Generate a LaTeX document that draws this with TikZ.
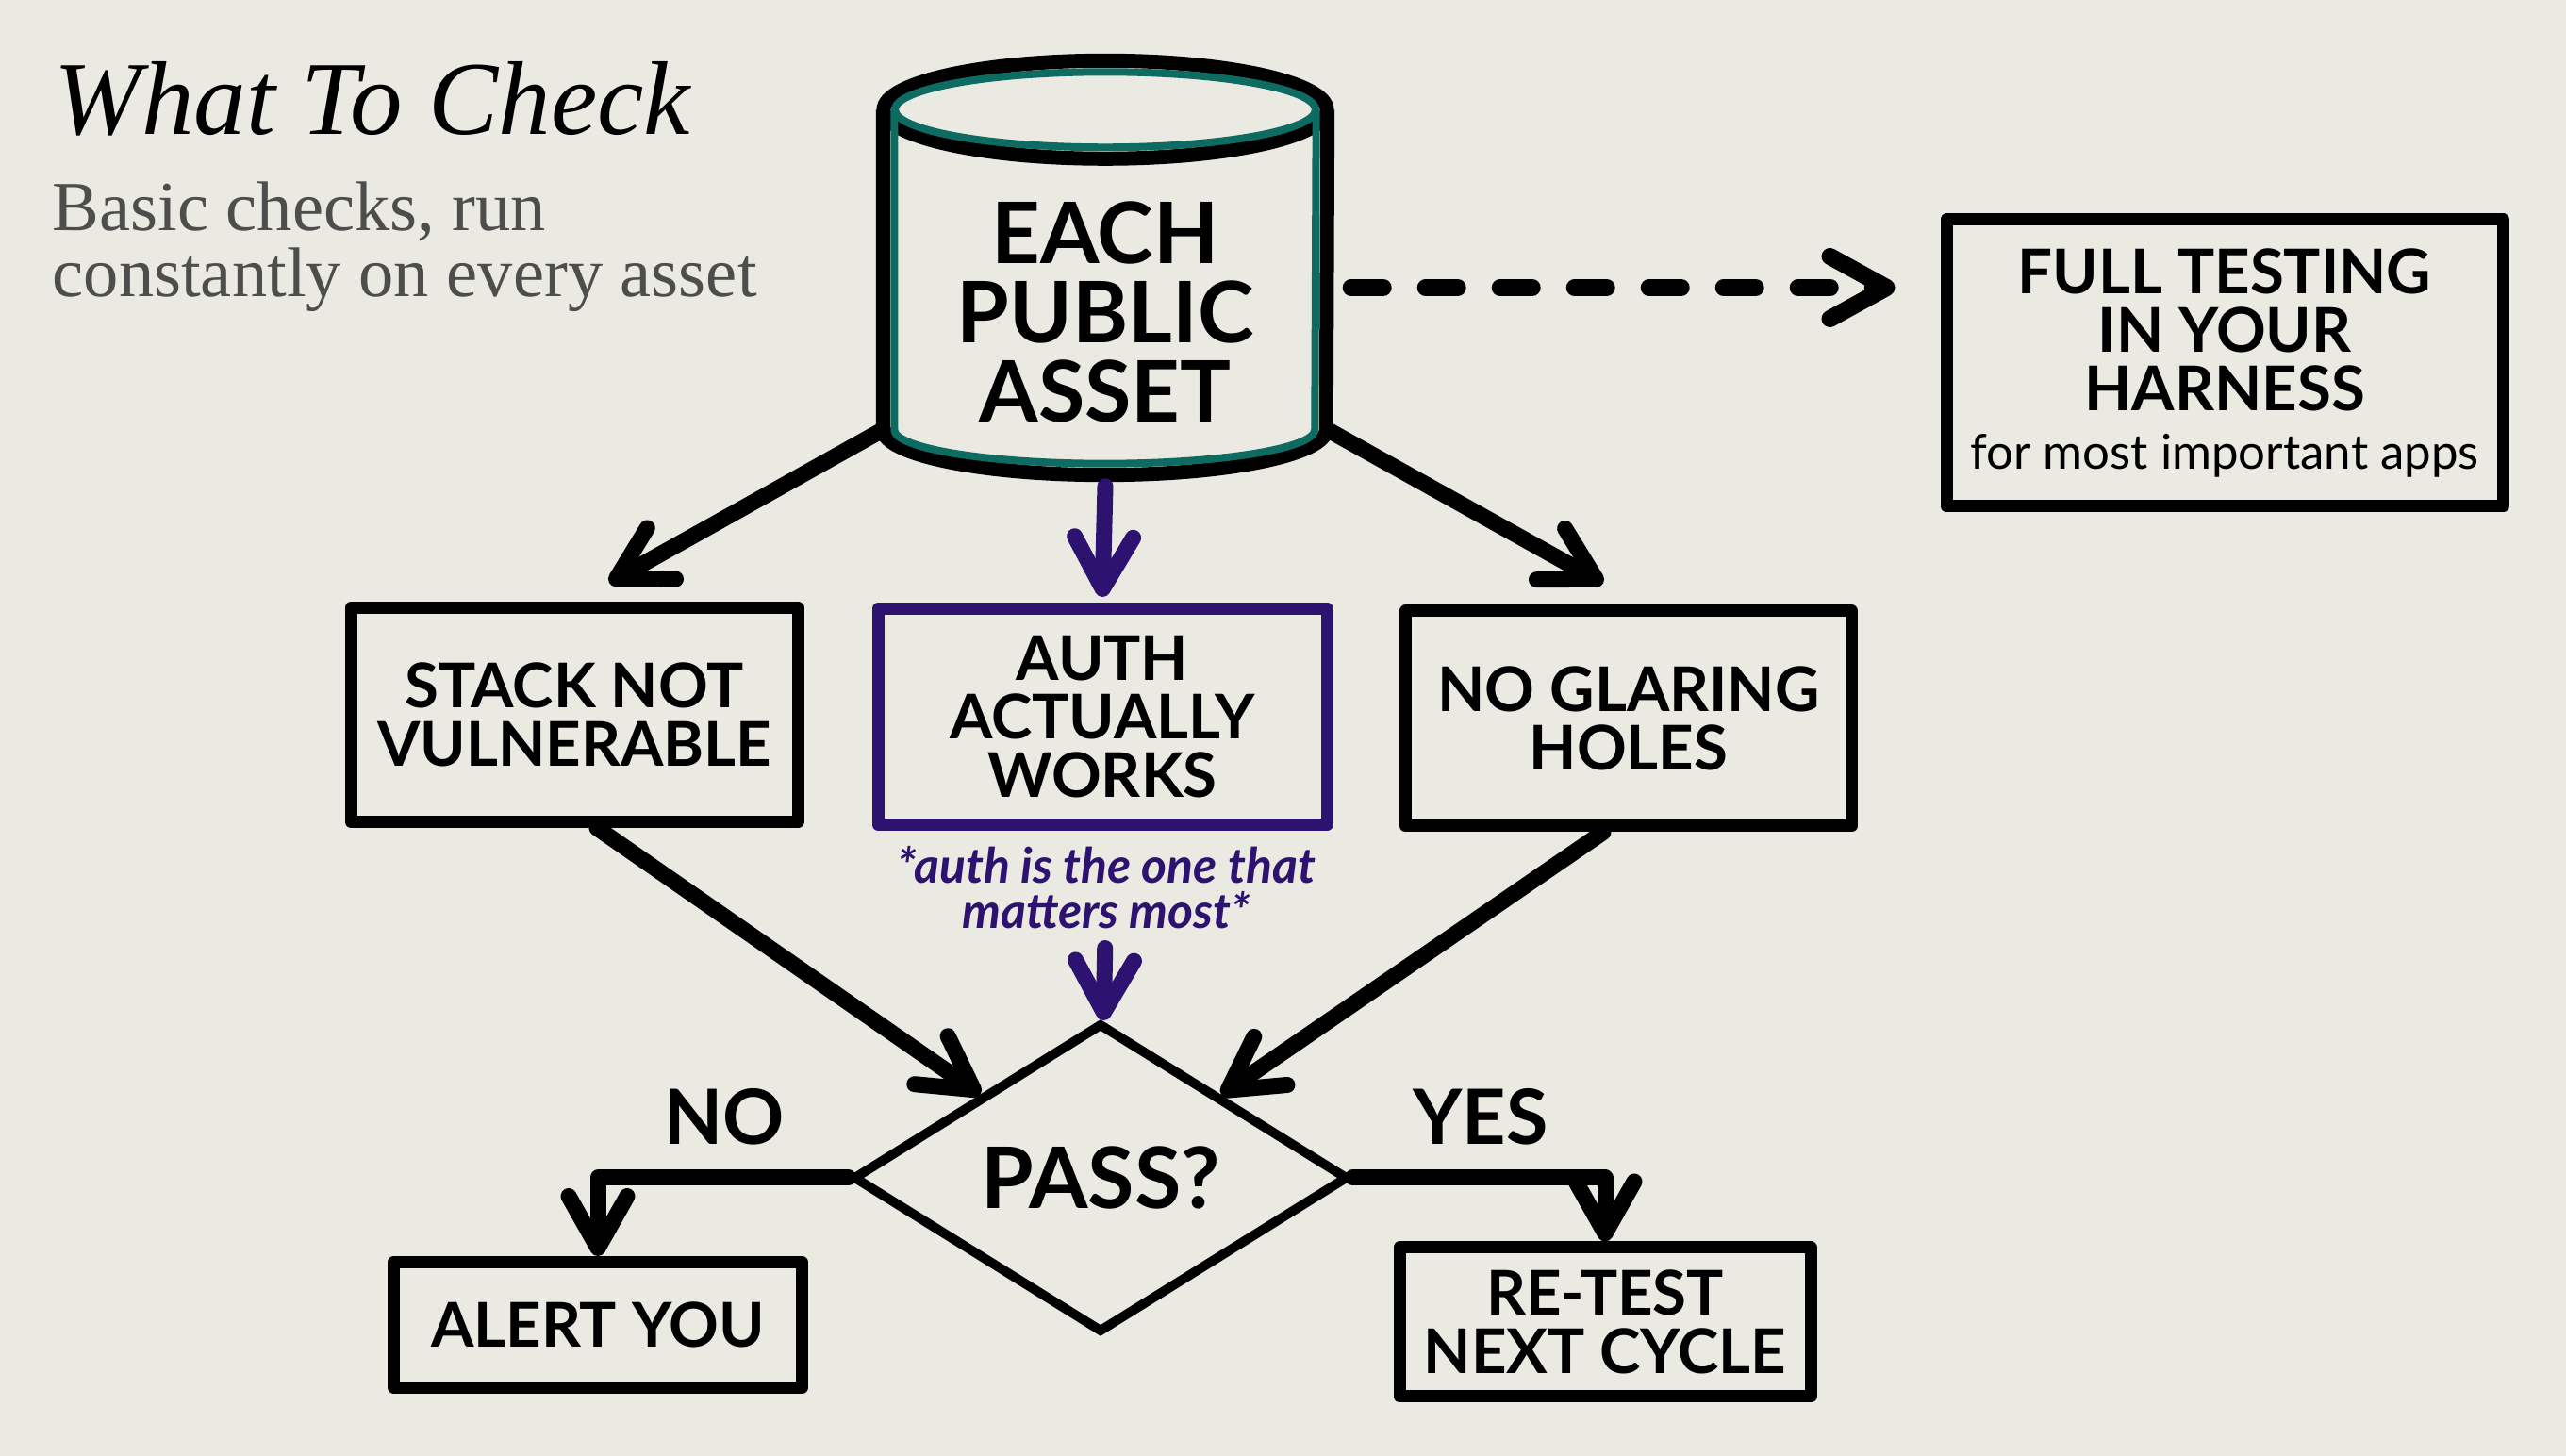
\documentclass[tikz,border=0pt]{standalone}
\usepackage{fontspec}
\setmainfont{Liberation Serif}
\setsansfont{Lato}
\usetikzlibrary{arrows.meta,positioning,shapes.geometric}
\definecolor{paper}{HTML}{EAE9E2}
\definecolor{cylteal}{HTML}{0E6B62}
\definecolor{authpurple}{HTML}{2D1270}
\definecolor{subgray}{HTML}{4D4D4B}
\tikzset{box/.style={draw,line width=.13cm,line join=round,align=center,inner sep=0pt,font=\sffamily\bfseries\fontsize{18.6}{17.6}\selectfont},arr/.style={-{Straight Barb[length=.55cm,width=.62cm,round]},line width=.17cm,line cap=round,line join=round},dasharr/.style={arr,-{Straight Barb[length=.6cm,width=.66cm,round]},line width=.18cm,dash pattern=on .34cm off .45cm},lbl/.style={inner sep=0pt,font=\sffamily\bfseries\fontsize{23}{23}\selectfont}}

\begin{document}
\begin{tikzpicture}
\path[use as bounding box,fill=paper] (0,0) rectangle (27.21,15.44);
\node[anchor=base west,inner sep=0pt,font=\itshape\fontsize{31.6}{31.6}\selectfont] (title) at (.57,14.01) {What To Check};
\node[anchor=base west,inner sep=0pt,text=subgray,font=\fontsize{21.2}{20}\selectfont] (sub1) at (.55,12.99) {Basic checks, run};\node[anchor=base west,inner sep=0pt,text=subgray,font=\fontsize{21.2}{20}\selectfont] (sub2) at (.55,12.29) {constantly on every asset};
% cylinder
\node[minimum width=4.70cm,minimum height=3.38cm,inner sep=0pt] (asset) at (11.72,12.58) {};
\draw[line width=.15cm] (asset.north west) -- (asset.south west) arc[start angle=180,end angle=360,x radius=2.35,y radius=.48] -- (asset.north east);\draw[line width=.15cm] (asset.north) ellipse[x radius=2.35,y radius=.52];
\draw[cylteal,line width=.08cm] ([xshift=.12cm]asset.north west) -- ([xshift=.12cm]asset.south west) arc[start angle=180,end angle=360,x radius=2.23,y radius=.36] -- ([xshift=-.12cm]asset.north east);\draw[cylteal,line width=.08cm] (asset.north) ellipse[x radius=2.23,y radius=.40];
\node[align=center,inner sep=0pt,font=\sffamily\bfseries\fontsize{25.6}{24}\selectfont] (assettext) at (11.72,12.13) {EACH\\PUBLIC\\ASSET};
\node[box,minimum width=5.90cm,minimum height=3.04cm] (full) at (23.59,11.59) {FULL TESTING\\IN YOUR\\HARNESS\\{\mdseries\fontsize{14.5}{17}\selectfont for most important apps}};
% checks
\node[box,minimum width=4.74cm,minimum height=2.27cm] (stack) at (6.09,7.86) {STACK NOT\\VULNERABLE};\node[box,draw=authpurple,minimum width=4.76cm,minimum height=2.29cm] (auth) at (11.69,7.84) {AUTH\\ACTUALLY\\WORKS};\node[box,minimum width=4.73cm,minimum height=2.28cm] (holes) at (17.27,7.82) {NO GLARING\\HOLES};
\node[align=center,inner sep=.2cm,text=authpurple,font=\sffamily\bfseries\itshape\fontsize{14.7}{13.7}\selectfont] (note) at (11.73,6.03) {*auth is the one that\\matters most*};
\node[diamond,draw,line width=.1cm,minimum width=5.25cm,minimum height=3.28cm,inner sep=0pt,font=\sffamily\bfseries\fontsize{25.6}{25.6}\selectfont] (pass) at (11.67,2.95) {PASS?};
\node[lbl] (no) at (7.68,3.60) {NO};\node[lbl] (yes) at (15.70,3.60) {YES};
\node[box,minimum width=4.33cm,minimum height=1.33cm] (alert) at (6.34,1.39) {ALERT YOU};\node[box,minimum width=4.36cm,minimum height=1.58cm] (retest) at (17.02,1.42) {RE-TEST\\NEXT CYCLE};
% connectors
\draw[dasharr,shorten >=.48cm] ([xshift=.25cm,yshift=-.19cm]asset.east) coordinate (d0) -- (d0 -| full.west);
\draw[arr] (asset.south west) -- ([xshift=.37cm,yshift=.2cm]stack.north);\draw[arr,authpurple] ([yshift=-.6cm]asset.south) -- ([yshift=.06cm]auth.north);\draw[arr] (asset.south east) -- ([xshift=-.27cm,yshift=.23cm]holes.north);
\draw[arr] ([xshift=.24cm]stack.south) -- (pass);\draw[arr] ([xshift=-.27cm]holes.south) -- (pass);\draw[arr,authpurple] (note) -- (pass);
\draw[arr] (pass.west) -| (alert.north);\draw[arr] (pass.east) -| (retest.north);
\end{tikzpicture}
\end{document}
